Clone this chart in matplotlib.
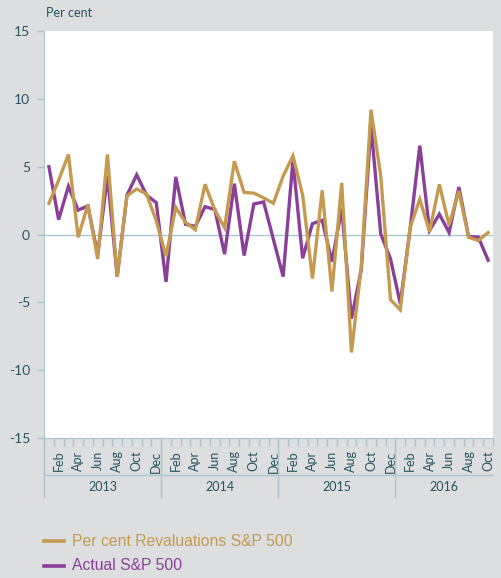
import numpy as np
import matplotlib as mpl
import matplotlib.pyplot as plt
from matplotlib.transforms import blended_transform_factory

mpl.rcParams["font.family"] = ["Lato", "DejaVu Sans"]
mpl.rcParams["axes.unicode_minus"] = False

# data, Jan 2013 .. Oct 2016
month_names = ["Jan", "Feb", "Mar", "Apr", "May", "Jun",
               "Jul", "Aug", "Sep", "Oct", "Nov", "Dec"]
years = ["2013", "2014", "2015", "2016"]
months = [m for y in years for m in month_names][:46]

revaluations = [2.3, 4.0, 5.9, -0.2, 2.2, -1.8, 5.9, -3.1, 2.85, 3.35, 3.0, 1.0,
                -1.6, 2.0, 0.9, 0.35, 3.7, 1.8, 0.5, 5.4, 3.1, 3.05, 2.7, 2.3,
                4.3, 5.8, 2.9, -3.25, 3.25, -4.2, 3.8, -8.7, -2.4, 9.2, 4.3, -4.8,
                -5.55, 0.5, 2.6, 0.2, 3.7, 0.7, 3.2, -0.2, -0.45, 0.15]
actual = [5.0, 1.1, 3.55, 1.8, 2.1, -1.5, 4.3, -3.1, 2.9, 4.4, 2.9, 2.35,
          -3.5, 4.25, 0.75, 0.6, 2.05, 1.85, -1.45, 3.75, -1.55, 2.25, 2.4, -0.35,
          -3.1, 5.45, -1.75, 0.8, 1.05, -2.0, 1.9, -6.2, -2.6, 8.0, 0.05, -1.8,
          -5.1, 0.35, 6.55, 0.3, 1.5, 0.15, 3.5, -0.15, -0.2, -1.9]
yticks = [-15, -10, -5, 0, 5, 10, 15]

bg = "#dcdee0"
axis_col = "#a9c5cd"
text_col = "#24545f"
gold = "#c49a50"
purple = "#8a3f98"

W, H = 501, 578
fig = plt.figure(figsize=(W / 100, H / 100), dpi=100, facecolor=bg)
left, right, top, bottom = 44, 493, 31, 438
ax = fig.add_axes([left / W, 1 - bottom / H, (right - left) / W, (bottom - top) / H])
ax.set_facecolor("white")

x = np.arange(len(months))
ax.plot(x, actual, color=purple, lw=2.4, zorder=3, solid_joinstyle="miter")
ax.plot(x, revaluations, color=gold, lw=2.4, zorder=4, solid_joinstyle="miter")
ax.axhline(0, color=axis_col, lw=1, zorder=2)

ax.set_xlim(-0.5, len(months) - 0.5)
ax.set_ylim(-15, 15)
ax.set_yticks(yticks)
ax.tick_params(axis="y", colors=axis_col, labelcolor=text_col, labelsize=10,
               length=5, width=1, pad=5)

# month labels at every second month, minor ticks at month boundaries
ax.set_xticks(x[1::2])
ax.set_xticklabels(months[1::2], rotation=90, va="top", ha="center")
ax.set_xticks(np.arange(-0.5, len(months)), minor=True)
ax.tick_params(axis="x", which="major", length=0, labelcolor=text_col,
               labelsize=9, pad=9)
ax.tick_params(axis="x", which="minor", length=6, width=1, colors=axis_col)

for s in ["top", "right"]:
    ax.spines[s].set_visible(False)
for s in ["left", "bottom"]:
    ax.spines[s].set_color(axis_col)

# year band under the month labels
ph = bottom - top
tr = blended_transform_factory(ax.transData, ax.transAxes)
y_mid = -(475 - bottom) / ph
y_end = -(497 - bottom) / ph
ax.plot([-0.5, len(months) - 0.5], [y_mid, y_mid], color=axis_col, lw=1,
        transform=tr, clip_on=False)
for k in range(len(years)):
    xb = k * 12 - 0.5
    ax.plot([xb, xb], [0, y_end], color=axis_col, lw=1, transform=tr, clip_on=False)
for k, yr in enumerate(years):
    x0 = k * 12 - 0.5
    x1 = min((k + 1) * 12, len(months)) - 0.5
    ax.text((x0 + x1) / 2, -(487 - bottom) / ph, yr, transform=tr, ha="center",
            va="center", color=text_col, fontsize=9)

fig.text(46 / W, 1 - 13 / H, "Per cent", color=text_col, fontsize=9,
         ha="left", va="center")

# legend
for yy, lab, col in [(541, "Per cent Revaluations S&P 500", gold),
                     (566, "Actual S&P 500", purple)]:
    fig.add_artist(plt.Line2D([44 / W, 64 / W], [1 - yy / H, 1 - yy / H],
                              color=col, lw=2.6))
    fig.text(72 / W, 1 - yy / H, lab, color=col, fontsize=11.3,
             family=["Liberation Sans", "DejaVu Sans"], ha="left", va="center")

fig.savefig("out.png", dpi=100, facecolor=bg)
